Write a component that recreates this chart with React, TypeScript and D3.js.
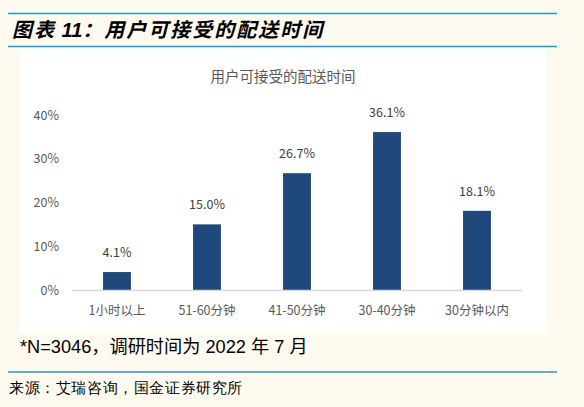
import React from "react";
import * as d3 from "d3";

const categories = ["1小时以上", "51-60分钟", "41-50分钟", "30-40分钟", "30分钟以内"];
const values = [4.1, 15.0, 26.7, 36.1, 18.1];
const yTicks = [0, 10, 20, 30, 40];
const headerPrefix = "图表";
const headerNumber = " 11";
const headerRest = "：用户可接受的配送时间";
const chartTitle = "用户可接受的配送时间";
const footnote = "*N=3046，调研时间为 2022 年 7 月";
const source = "来源：艾瑞咨询，国金证券研究所";

const W = 584;
const H = 407;
const sansCJK = "'Microsoft YaHei', 'Noto Sans CJK SC', 'Open Sans', sans-serif";

export default function App() {
  const x = d3.scaleBand<string>().domain(categories).range([72, 522]).paddingInner(0.69).paddingOuter(0.345);
  const y = d3.scaleLinear().domain([0, 40]).range([290, 115]);

  return (
    <svg
      width={W}
      height={H}
      style={{ position: "absolute", left: 0, top: 0, display: "block" }}
      xmlns="http://www.w3.org/2000/svg"
    >
      <rect x={0} y={0} width={W} height={H} fill="#fefaf0" />
      {/* header lines */}
      <line x1={8} x2={557} y1={13.5} y2={13.5} stroke="#1f9ad4" strokeWidth={1.5} />
      <line x1={8} x2={557} y1={46.5} y2={46.5} stroke="#1f9ad4" strokeWidth={1.5} />
      <text
        x={12}
        y={36.5}
        fontFamily="'Liberation Sans', 'Noto Sans CJK SC', sans-serif"
        fontWeight="bold"
        fontStyle="italic"
        fontSize={20}
        fill="#000"
      >
        <tspan letterSpacing={2}>{headerPrefix}</tspan>
        <tspan letterSpacing={0}>{headerNumber}</tspan>
        <tspan letterSpacing={2}>{headerRest}</tspan>
      </text>
      {/* chart panel */}
      <rect x={20} y={50} width={526} height={283} fill="#ffffff" />
      <text x={283} y={81.5} textAnchor="middle" fontFamily={sansCJK} fontSize={14.5} fill="#595959">
        {chartTitle}
      </text>
      {/* y ticks */}
      {yTicks.map((t) => (
        <text key={t} x={59} y={y(t) + 4.5} textAnchor="end" fontFamily={sansCJK} fontSize={12.5} fill="#595959">
          {`${t}%`}
        </text>
      ))}
      {/* bars */}
      {categories.map((c, i) => (
        <g key={c}>
          <rect x={x(c)} y={y(values[i])} width={x.bandwidth()} height={y(0) - y(values[i])} fill="#1f497d" />
          <text
            x={(x(c) as number) + x.bandwidth() / 2}
            y={y(values[i]) - 15}
            textAnchor="middle"
            fontFamily={sansCJK}
            fontSize={12.5}
            fill="#404040"
          >
            {`${values[i].toFixed(1)}%`}
          </text>
          <text
            x={(x(c) as number) + x.bandwidth() / 2}
            y={314.5}
            textAnchor="middle"
            fontFamily={sansCJK}
            fontSize={12.5}
            fill="#595959"
          >
            {c}
          </text>
        </g>
      ))}
      <line x1={72} x2={522} y1={290.5} y2={290.5} stroke="#d9d9d9" strokeWidth={1.5} />
      {/* footnote */}
      <text x={20} y={353} fontFamily="'Liberation Sans', 'Noto Sans CJK SC', sans-serif" fontSize={18.2} fill="#000">
        {footnote}
      </text>
      <line x1={8} x2={557} y1={372} y2={372} stroke="#3a8fc0" strokeWidth={1.5} />
      <text x={9} y={393} fontFamily="serif" fontSize={15} letterSpacing={0.6} fill="#000">
        {source}
      </text>
    </svg>
  );
}
